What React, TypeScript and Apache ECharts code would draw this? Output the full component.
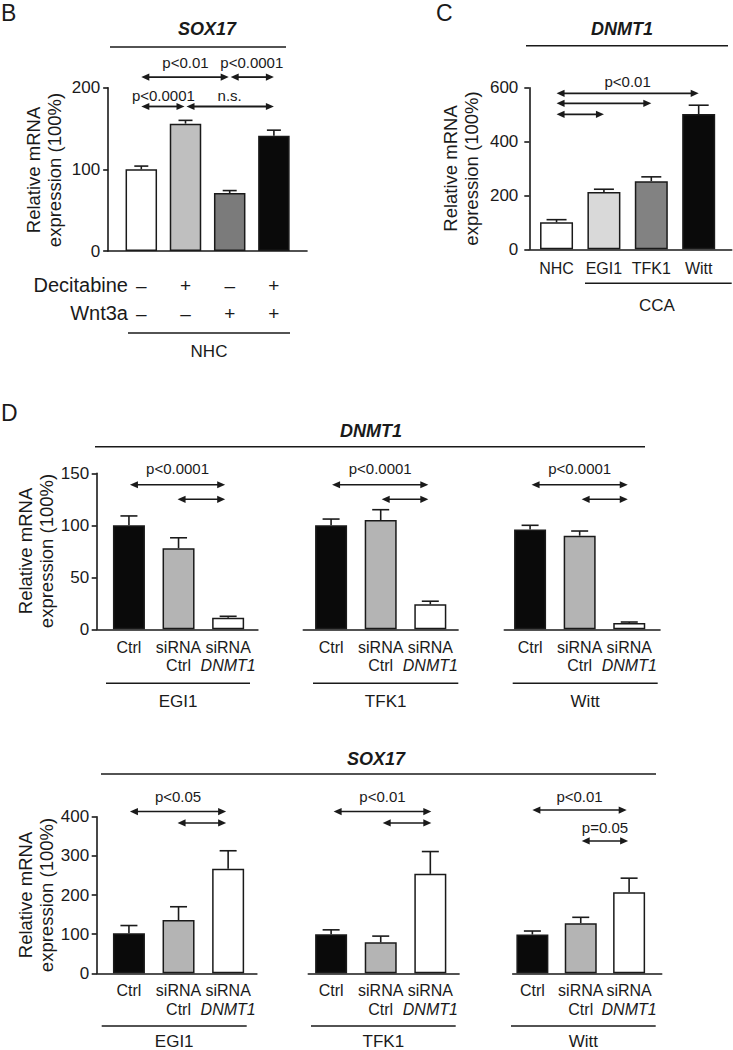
import React, { useEffect, useRef } from "react";
import * as echarts from "echarts";

const FONT = "'Liberation Sans', Arial, Helvetica, sans-serif";
const INK = "#1a1a1a";

// ---------- Panel B: SOX17 in NHC ----------
const bValues = [100, 156, 71, 141];
const bErrors = [4, 4, 3, 7];
const bColors = ["#ffffff", "#bfbfbf", "#7b7b7b", "#0a0a0a"];
const bDecitabine = ["–", "+", "–", "+"];
const bWnt3a = ["–", "–", "+", "+"];
const bComparisons = [
  { from: 0, to: 2, y: 213, label: "p<0.01", labelY: 231, gapR: 1 },
  { from: 2, to: 3, y: 213, label: "p<0.0001", labelY: 231, gapL: 1 },
  { from: 0, to: 1, y: 177, label: "p<0.0001", labelY: 190, gapR: 1 },
  { from: 1, to: 3, y: 177, label: "n.s.", labelY: 190, gapL: 1 },
];

// ---------- Panel C: DNMT1 in NHC vs CCA ----------
const cCategories = ["NHC", "EGI1", "TFK1", "Witt"];
const cValues = [100, 213, 253, 502];
const cErrors = [10, 10, 16, 33];
const cColors = ["#ffffff", "#d9d9d9", "#828282", "#0a0a0a"];
const cComparisons = [
  { from: 0, to: 3, y: 579, label: "p<0.01", labelY: 623 },
  { from: 0, to: 2, y: 542, label: "", labelY: 0 },
  { from: 0, to: 1, y: 501, label: "", labelY: 0 },
];

// ---------- Panel D ----------
// lines of each category label; "_" prefix marks an italic line
const dCategories = [["Ctrl"], ["siRNA", "Ctrl"], ["siRNA", "_DNMT1"]];
const dCellLines = ["EGI1", "TFK1", "Witt"];
const dColors = ["#0a0a0a", "#b4b4b4", "#ffffff"];
const dDnmt1Values = [
  [100, 78, 11],
  [100, 105, 24],
  [96, 90, 6],
];
const dDnmt1Errors = [
  [9, 10, 1.5],
  [6, 10, 3],
  [4, 4.5, 1],
];
const dSox17Values = [
  [102, 136, 267],
  [100, 79, 254],
  [99, 128, 207],
];
const dSox17Errors = [
  [20, 34, 46],
  [11, 16, 57],
  [9, 15, 36],
];
const dDnmt1Comparisons = [
  [
    { from: 0.02, to: 1.94, y: 139, label: "p<0.0001", labelY: 155 },
    { from: 0.98, to: 1.94, y: 125, label: "", labelY: 0 },
  ],
  [
    { from: 0.02, to: 1.96, y: 139, label: "p<0.0001", labelY: 155 },
    { from: 1.02, to: 1.96, y: 125, label: "", labelY: 0 },
  ],
  [
    { from: 0.03, to: 1.97, y: 139, label: "p<0.0001", labelY: 155 },
    { from: 1.04, to: 1.97, y: 125, label: "", labelY: 0 },
  ],
];
const dSox17Comparisons = [
  [
    { from: 0.02, to: 1.96, y: 413, label: "p<0.05", labelY: 451 },
    { from: 0.98, to: 1.96, y: 384, label: "", labelY: 0 },
  ],
  [
    { from: 0.05, to: 2.02, y: 413, label: "p<0.01", labelY: 451 },
    { from: 1.04, to: 2.02, y: 384, label: "", labelY: 0 },
  ],
  [
    { from: 0.0, to: 1.95, y: 417, label: "p<0.01", labelY: 451 },
    { from: 1.02, to: 1.98, y: 338, label: "p=0.05", labelY: 372 },
  ],
];

type Comp = { from: number; to: number; y: number; label: string; labelY: number; gapL?: number; gapR?: number };

type Panel = {
  grid: { left: number; top: number; width: number; height: number };
  xMin: number;
  xMax: number;
  yMax: number;
  yInterval: number;
  showY: boolean;
  yLabelMargin: number;
  values: number[];
  errors: number[];
  colors: string[];
  barWidth: number;
  capHalf: number;
  labels: string[][];
  labelSize: number;
  labelLineHeight: number;
  labelMargin: number;
  comps: Comp[];
  arrowWidth: number;
};

const dTopGrids = [
  { left: 96.7, width: 161.2, xMin: -0.65, xMax: 2.6 },
  { left: 303.3, width: 154.8, xMin: -0.56, xMax: 2.56 },
  { left: 504.3, width: 155.7, xMin: -0.52, xMax: 2.62 },
];
const dBottomGrids = [
  { left: 96.7, width: 160.2, xMin: -0.65, xMax: 2.58 },
  { left: 308.3, width: 150.8, xMin: -0.46, xMax: 2.58 },
  { left: 512.7, width: 149, xMin: -0.407, xMax: 2.674 },
];

const panels: Panel[] = [
  {
    grid: { left: 108.15, top: 87.7, width: 198.9, height: 163.3 },
    xMin: -0.75,
    xMax: 3.75,
    yMax: 200,
    yInterval: 100,
    showY: true,
    yLabelMargin: 8,
    values: bValues,
    errors: bErrors,
    colors: bColors,
    barWidth: 31.5,
    capHalf: 7,
    labels: bDecitabine.map((d, i) => [d, bWnt3a[i]]),
    labelSize: 19,
    labelLineHeight: 28,
    labelMargin: 20,
    comps: bComparisons,
    arrowWidth: 1.8,
  },
  {
    grid: { left: 529.3, top: 87.7, width: 202.4, height: 161.6 },
    xMin: -0.575,
    xMax: 3.697,
    yMax: 600,
    yInterval: 200,
    showY: true,
    yLabelMargin: 11,
    values: cValues,
    errors: cErrors,
    colors: cColors,
    barWidth: 33,
    capHalf: 10,
    labels: cCategories.map((c) => [c]),
    labelSize: 16,
    labelLineHeight: 18,
    labelMargin: 10,
    comps: cComparisons,
    arrowWidth: 1.8,
  },
  ...dTopGrids.map((g, k) => ({
    grid: { left: g.left, top: 473.3, width: g.width, height: 156 },
    xMin: g.xMin,
    xMax: g.xMax,
    yMax: 150,
    yInterval: 50,
    showY: k === 0,
    yLabelMargin: 7.5,
    values: dDnmt1Values[k],
    errors: dDnmt1Errors[k],
    colors: dColors,
    barWidth: 32,
    capHalf: 8.5,
    labels: dCategories,
    labelSize: 16,
    labelLineHeight: 18,
    labelMargin: 9,
    comps: dDnmt1Comparisons[k],
    arrowWidth: 1.5,
  })),
  ...dBottomGrids.map((g, k) => ({
    grid: { left: g.left, top: 816.7, width: g.width, height: 156.6 },
    xMin: g.xMin,
    xMax: g.xMax,
    yMax: 400,
    yInterval: 100,
    showY: k === 0,
    yLabelMargin: 7.5,
    values: dSox17Values[k],
    errors: dSox17Errors[k],
    colors: dColors,
    barWidth: 32,
    capHalf: 8.5,
    labels: dCategories,
    labelSize: 16,
    labelLineHeight: 19,
    labelMargin: 8,
    comps: dSox17Comparisons[k],
    arrowWidth: 1.5,
  })),
];

function txt(
  text: string,
  x: number,
  y: number,
  o: { size?: number; align?: string; style?: string; weight?: string; rotation?: number; lineHeight?: number } = {}
) {
  const align = o.align || "center";
  return {
    type: "text",
    x,
    y,
    rotation: o.rotation || 0,
    silent: true,
    style: {
      text,
      fill: INK,
      font: `${o.style || "normal"} ${o.weight || "normal"} ${o.size || 17}px ${FONT}`,
      textAlign: align,
      align,
      textVerticalAlign: "middle",
      verticalAlign: "middle",
      lineHeight: o.lineHeight,
    },
  };
}

function hline(x1: number, x2: number, y: number, w = 1.6) {
  return {
    type: "line",
    silent: true,
    shape: { x1, y1: y, x2, y2: y },
    style: { stroke: INK, lineWidth: w },
  };
}

function buildOption() {
  const grid: any[] = [];
  const xAxis: any[] = [];
  const yAxis: any[] = [];
  const series: any[] = [];

  panels.forEach((p, i) => {
    grid.push({ ...p.grid, containLabel: false });
    xAxis.push({
      type: "value",
      gridIndex: i,
      min: p.xMin,
      max: p.xMax,
      splitLine: { show: false },
      axisTick: { show: false },
      axisLabel: { show: false },
      axisLine: { show: true, onZero: false, lineStyle: { color: INK, width: 1.6 } },
    });
    yAxis.push({
      type: "value",
      gridIndex: i,
      min: 0,
      max: p.yMax,
      interval: p.yInterval,
      show: p.showY,
      splitLine: { show: false },
      axisLine: { show: true, onZero: false, lineStyle: { color: INK, width: 1.6 } },
      axisTick: { show: true, length: 5, lineStyle: { color: INK, width: 1.6 } },
      axisLabel: { fontSize: 17, fontFamily: FONT, color: INK, margin: p.yLabelMargin },
    });

    // bars
    series.push({
      type: "bar",
      xAxisIndex: i,
      yAxisIndex: i,
      barWidth: p.barWidth,
      silent: true,
      data: p.values.map((v, j) => ({
        value: [j, v],
        itemStyle: { color: p.colors[j], borderColor: INK, borderWidth: 1.5 },
      })),
    });

    // error bars (upper SEM)
    series.push({
      type: "custom",
      xAxisIndex: i,
      yAxisIndex: i,
      silent: true,
      encode: { x: 0, y: [1, 2] },
      data: p.values.map((v, j) => [j, v, v + p.errors[j]]),
      renderItem: (_params: any, api: any) => {
        const x = api.value(0);
        const base = api.coord([x, api.value(1)]);
        const top = api.coord([x, api.value(2)]);
        const st = { stroke: INK, lineWidth: 1.6 };
        return {
          type: "group",
          children: [
            { type: "line", shape: { x1: base[0], y1: base[1], x2: top[0], y2: top[1] }, style: st },
            { type: "line", shape: { x1: top[0] - p.capHalf, y1: top[1], x2: top[0] + p.capHalf, y2: top[1] }, style: st },
          ],
        };
      },
    });

    // category labels under each bar
    series.push({
      type: "custom",
      xAxisIndex: i,
      yAxisIndex: i,
      silent: true,
      encode: { x: 0, y: 1 },
      data: p.values.map((_, j) => [j, 0]),
      renderItem: (params: any, api: any) => {
        const pt = api.coord([api.value(0), 0]);
        const lines = p.labels[params.dataIndex] || [];
        return {
          type: "group",
          children: lines.map((ln, k) => {
            const italic = ln.startsWith("_");
            return txt(italic ? ln.slice(1) : ln, pt[0], pt[1] + p.labelMargin + p.labelLineHeight * (k + 0.5), {
              size: p.labelSize,
              style: italic ? "italic" : "normal",
            });
          }),
        };
      },
    });

    // significance arrows
    series.push({
      type: "custom",
      xAxisIndex: i,
      yAxisIndex: i,
      silent: true,
      encode: { x: [0, 2], y: 1 },
      data: p.comps.map((c) => [c.from, c.y, c.to]),
      renderItem: (params: any, api: any) => {
        const c = p.comps[params.dataIndex];
        const a = api.coord([c.from, c.y]);
        const b = api.coord([c.to, c.y]);
        const x1 = a[0] + (c.gapL || 0);
        const x2 = b[0] - (c.gapR || 0);
        const y = a[1];
        const L = 8;
        const H = 3.6;
        const children: any[] = [
          {
            type: "line",
            shape: { x1: x1 + L - 1, y1: y, x2: x2 - L + 1, y2: y },
            style: { stroke: INK, lineWidth: p.arrowWidth },
          },
          {
            type: "polygon",
            shape: { points: [[x1, y], [x1 + L, y - H], [x1 + L, y + H]] },
            style: { fill: INK },
          },
          {
            type: "polygon",
            shape: { points: [[x2, y], [x2 - L, y - H], [x2 - L, y + H]] },
            style: { fill: INK },
          },
        ];
        if (c.label) {
          const m = api.coord([(c.from + c.to) / 2, c.labelY]);
          children.push(txt(c.label, m[0], m[1], { size: 15 }));
        }
        return { type: "group", children };
      },
    });
  });

  const yTitle = "Relative mRNA\nexpression (100%)";
  const elements: any[] = [
    // panel letters
    txt("B", 1, 13, { size: 23, align: "left" }),
    txt("C", 436, 13, { size: 23, align: "left" }),
    txt("D", 1, 413, { size: 23, align: "left" }),
    // titles
    txt("SOX17", 207, 28.5, { size: 18, style: "italic", weight: "bold" }),
    txt("DNMT1", 622, 28.5, { size: 18, style: "italic", weight: "bold" }),
    txt("DNMT1", 371, 431, { size: 18, style: "italic", weight: "bold" }),
    txt("SOX17", 376, 758.5, { size: 18, style: "italic", weight: "bold" }),
    hline(110, 286, 47),
    hline(526, 728, 45.7),
    hline(95, 645, 446.7),
    hline(101, 656, 774),
    // y titles
    txt(yTitle, 44, 170, { size: 18.5, rotation: Math.PI / 2, lineHeight: 21 }),
    txt(yTitle, 460.5, 168.5, { size: 18.5, rotation: Math.PI / 2, lineHeight: 21 }),
    txt(yTitle, 36, 551, { size: 18.5, rotation: Math.PI / 2, lineHeight: 21 }),
    txt(yTitle, 36, 895, { size: 18.5, rotation: Math.PI / 2, lineHeight: 21 }),
    // panel B treatment rows
    txt("Decitabine", 128, 285, { size: 20, align: "right" }),
    txt("Wnt3a", 128, 313, { size: 20, align: "right" }),
    hline(128, 290, 333),
    txt("NHC", 209, 351.5, { size: 17 }),
    // panel C group
    hline(585, 731.7, 283.3),
    txt("CCA", 657, 305, { size: 17 }),
  ];
  const dTopLines = [
    [106, 250],
    [313, 458.3],
    [512.7, 657.7],
  ];
  const dBottomLines = [
    [101.7, 246.7],
    [311, 455.7],
    [511, 655.7],
  ];
  dCellLines.forEach((name, k) => {
    const t = dTopLines[k];
    const b = dBottomLines[k];
    elements.push(hline(t[0], t[1], 683.3));
    elements.push(txt(name, (t[0] + t[1]) / 2, 701.5, { size: 17 }));
    elements.push(hline(b[0], b[1], 1026));
    elements.push(txt(name, (b[0] + b[1]) / 2, 1041.5, { size: 17 }));
  });

  return {
    animation: false,
    backgroundColor: "#ffffff",
    textStyle: { fontFamily: FONT },
    grid,
    xAxis,
    yAxis,
    series,
    graphic: { elements },
  };
}

export default function App() {
  const ref = useRef<HTMLDivElement>(null);
  useEffect(() => {
    if (!ref.current) return;
    const chart = echarts.init(ref.current, null, { renderer: "svg" });
    chart.setOption(buildOption() as any);
    return () => chart.dispose();
  }, []);
  return (
    <div
      ref={ref}
      style={{ position: "absolute", left: 0, top: 0, width: 733, height: 1050, background: "#fff" }}
    />
  );
}
